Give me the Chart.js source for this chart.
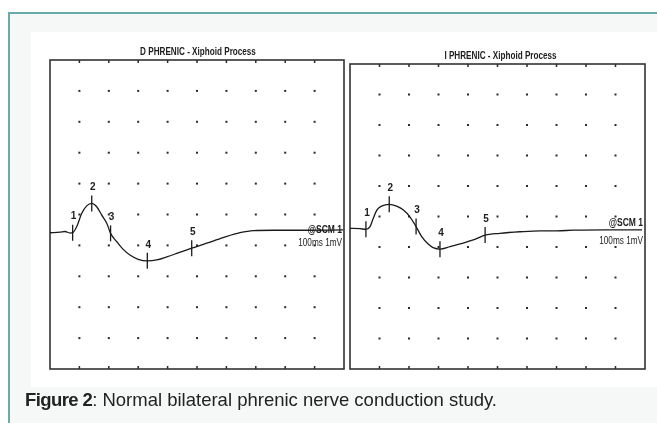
<!DOCTYPE html>
<html><head><meta charset="utf-8">
<script src="https://cdn.jsdelivr.net/npm/chart.js@4.4.1/dist/chart.umd.min.js"></script>
<style>
html,body{margin:0;padding:0;background:#fff;}
#wrap{position:relative;width:657px;height:423px;overflow:hidden;background:#fff;}
#frame{position:absolute;left:8px;top:12px;width:700px;height:500px;border:2px solid #68abab;background:#f6f8f8;box-sizing:border-box;}
#scan{position:absolute;left:31px;top:32px;width:640px;height:355px;background:#fff;}
canvas{position:absolute;left:0;top:0;}
#cap{position:absolute;left:25px;top:389px;font:18.5px "Liberation Sans",Arial,sans-serif;color:#222;white-space:nowrap;}
#cap b{letter-spacing:-0.6px;}
</style></head>
<body><div id="wrap"><div id="frame"></div><div id="scan"></div>
<canvas id="c1" width="657" height="423"></canvas>
<canvas id="c2" width="657" height="423"></canvas>
<div id="cap"><b>Figure 2</b>: Normal bilateral phrenic nerve conduction study.</div></div>
<script>
// ---- data (x: ms over 100 ms sweep, y: divisions) ----
const leftTitle = 'D PHRENIC - Xiphoid Process';
const rightTitle = 'I PHRENIC - Xiphoid Process';
const markerLabels = ['1','2','3','4','5'];
const gridX = [10,20,30,40,50,60,70,80,90];
const gridY = [-4,-3,-2,-1,0,1,2,3,4];

const leftX = [0, 3.4, 5.1, 6.8, 7.7, 9.1, 10.8, 12.5, 14.2, 15.9, 17.6, 19.3, 20.6, 22.7, 24.9, 27.2, 30.0, 33.1, 36.3, 39.7, 43.1, 48.2, 53.3, 58.9, 64.6, 69.2, 76.0, 87.3, 99.7];
const leftY = [-0.59, -0.57, -0.55, -0.60, -0.59, -0.39, 0.04, 0.28, 0.36, 0.25, -0.02, -0.28, -0.61, -0.88, -1.13, -1.31, -1.45, -1.50, -1.47, -1.37, -1.26, -1.09, -0.93, -0.75, -0.59, -0.52, -0.51, -0.51, -0.50];
const leftMarkX = [7.7, 14.2, 20.6, 33.1, 48.2];
const leftMarkY = [-0.59, 0.36, -0.61, -1.50, -1.09];

const rightX = [0, 3.4, 5.4, 6.8, 7.9, 9.1, 10.7, 13.3, 15.8, 18.1, 20.3, 22.4, 24.3, 26.5, 28.2, 30.5, 33.9, 37.3, 41.8, 45.8, 50.8, 57.6, 64.4, 70.1, 75.7, 87.0, 99.0];
const rightY = [-0.39, -0.40, -0.42, -0.33, -0.06, 0.21, 0.34, 0.40, 0.34, 0.21, -0.01, -0.33, -0.66, -0.90, -1.02, -1.07, -0.99, -0.90, -0.77, -0.61, -0.55, -0.50, -0.47, -0.47, -0.45, -0.44, -0.44];
const rightMarkX = [5.4, 13.3, 22.4, 30.5, 45.8];
const rightMarkY = [-0.42, 0.40, -0.33, -1.07, -0.61];

const scanText1 = '@SCM 1';
const scanText2 = '100ms 1mV';

function pts(xs, ys){ return xs.map((v,i)=>({x:v, y:ys[i]})); }

function narrowText(ctx, txt, x, y, sx, align){
  ctx.save();
  ctx.translate(x, y);
  ctx.scale(sx, 1);
  ctx.textAlign = align;
  ctx.fillText(txt, 0, 0);
  ctx.restore();
}

const scopePlugin = {
  id: 'scope',
  beforeDatasetsDraw(chart, args, o){
    const {ctx, chartArea:a, scales:{x, y}} = chart;
    ctx.save();
    ctx.fillStyle = '#2a2a2a';
    for (const gx of gridX) for (const gy of gridY){
      const px = x.getPixelForValue(gx), py = y.getPixelForValue(gy);
      ctx.fillRect(px-1, py-1, 2, 2);
    }
    for (const gx of gridX){
      const px = x.getPixelForValue(gx);
      ctx.fillRect(px-0.75, a.top, 1.5, 3);
      ctx.fillRect(px-0.75, a.bottom-3, 1.5, 3);
    }
    ctx.strokeStyle = '#333';
    ctx.lineWidth = 1.6;
    ctx.strokeRect(a.left, a.top, a.width, a.height);
    ctx.restore();
  },
  afterDatasetsDraw(chart, args, o){
    const {ctx, chartArea:a} = chart;
    ctx.save();
    ctx.fillStyle = '#1c1c1c';
    ctx.textBaseline = 'middle';
    // title
    ctx.font = 'bold 11px "Liberation Sans", Arial, sans-serif';
    narrowText(ctx, o.title, (a.left+a.right)/2 + o.titleDx, a.top - 8, 0.74, 'center');
    // marker labels
    ctx.font = 'bold 10px "Liberation Sans", Arial, sans-serif';
    const meta = chart.getDatasetMeta(1);
    meta.data.forEach((p, i)=>{
      ctx.fillText(o.labels[i], p.x + 1 - ctx.measureText(o.labels[i]).width/2, p.y - 16);
    });
    // scope annotations
    ctx.font = 'bold 10px "Liberation Sans", Arial, sans-serif';
    narrowText(ctx, scanText1, a.right - 2, a.top + o.t1, 0.85, 'right');
    ctx.font = '10px "Liberation Sans", Arial, sans-serif';
    narrowText(ctx, scanText2, a.right - 2, a.top + o.t2, 0.82, 'right');
    ctx.restore();
  }
};

function makeChart(id, xs, ys, mx, my, pad, opts){
  return new Chart(document.getElementById(id), {
    type: 'line',
    data: {
      datasets: [
        { data: pts(xs, ys), borderColor: '#1a1a1a', borderWidth: 1.3, pointRadius: 0,
          cubicInterpolationMode: 'monotone', fill: false },
        { data: pts(mx, my), showLine: false, pointStyle: 'line', rotation: 90,
          pointRadius: 8, pointBorderColor: '#1a1a1a', pointBorderWidth: 1.3, pointBackgroundColor: '#1a1a1a' }
      ]
    },
    options: {
      responsive: false, animation: false, events: [],
      layout: { padding: pad },
      plugins: { legend: {display:false}, tooltip: {enabled:false}, scope: opts },
      scales: {
        x: { type: 'linear', min: 0, max: 100, display: false },
        y: { type: 'linear', min: -5, max: 5, display: false }
      }
    },
    plugins: [scopePlugin]
  });
}

makeChart('c1', leftX, leftY, leftMarkX, leftMarkY,
  {left: 50, right: 313, top: 60, bottom: 54},
  {title: leftTitle, labels: markerLabels, titleDx: 1, t1: 170, t2: 183});
makeChart('c2', rightX, rightY, rightMarkX, rightMarkY,
  {left: 350, right: 12, top: 64, bottom: 54},
  {title: rightTitle, labels: markerLabels, titleDx: 3, t1: 159, t2: 177});
</script>
</body></html>
